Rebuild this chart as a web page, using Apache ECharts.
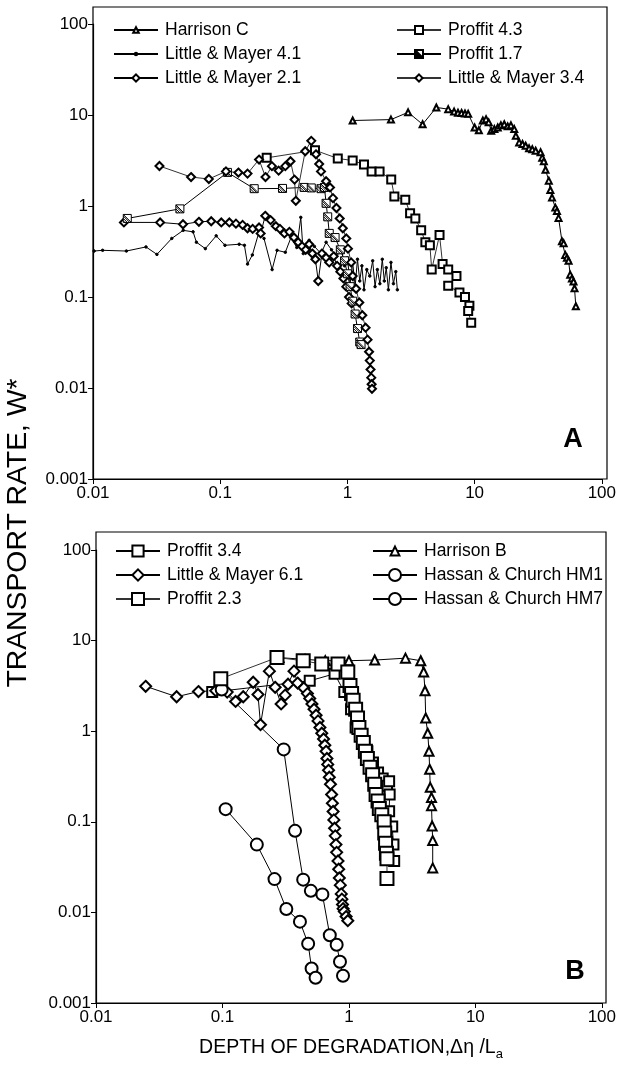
<!DOCTYPE html>
<html>
<head>
<meta charset="utf-8">
<script src="https://cdn.jsdelivr.net/npm/echarts@6/dist/echarts.min.js"></script>
<style>
  html, body { margin: 0; padding: 0; background: #fff; }
  #chart { width: 619px; height: 1074px; }
</style>
</head>
<body>
<div id="chart"></div>
<script>
// ---------- Panel A: transport rate vs depth of degradation ----------
const harrisonC = [[1.10,8.7],[2.2,8.9],[3.0,10.7],[3.9,7.9],[5.0,12.1],[6.2,11.6],[6.9,10.9],[7.4,10.6],[7.9,10.5],[8.4,10.4],[8.9,10.3],[10.0,7.3],[10.8,6.8],[11.6,8.7],[12.3,9.0],[12.9,8.3],[13.5,6.7],[14.3,7.0],[15.2,7.3],[16.1,7.7],[17.1,7.9],[18.2,7.5],[19.3,7.7],[20.5,7.0],[21.1,5.9],[22.4,5.0],[23.8,4.8],[25.2,4.6],[26.8,4.3],[28.4,4.2],[30.2,4.05],[33.0,3.9],[34.0,3.4],[35.0,3.1],[36.1,2.5],[38.3,1.9],[39.4,1.5],[40.6,1.24],[43.1,0.96],[44.4,0.88],[45.7,0.74],[48.6,0.41],[50.1,0.39],[51.6,0.29],[53.2,0.27],[54.8,0.25],[56.4,0.176],[58.2,0.16],[59.9,0.148],[61.0,0.125],[62.5,0.079]];
const littleMayer41 = [[0.0102,0.32],[0.0119,0.326],[0.0183,0.32],[0.0261,0.355],[0.0318,0.294],[0.0416,0.44],[0.0512,0.54],[0.0612,0.52],[0.065,0.40],[0.0764,0.34],[0.093,0.47],[0.109,0.37],[0.141,0.38],[0.155,0.37],[0.164,0.23],[0.179,0.29],[0.202,0.52],[0.221,0.44],[0.256,0.20],[0.280,0.326],[0.325,0.31],[0.36,0.45],[0.40,0.35],[0.43,0.75],[0.45,0.30],[0.5,0.42],[0.55,0.36],[0.62,0.30],[0.68,0.40],[0.75,0.33],[0.82,0.28],[0.9,0.33],[0.95,0.22],[1.0,0.27],[1.05,0.14],[1.1,0.24],[1.15,0.13],[1.2,0.26],[1.25,0.15],[1.3,0.22],[1.35,0.12],[1.42,0.2],[1.5,0.17],[1.58,0.25],[1.65,0.13],[1.72,0.2],[1.8,0.14],[1.88,0.26],[1.95,0.15],[2.02,0.21],[2.1,0.12],[2.2,0.24],[2.3,0.14],[2.4,0.19],[2.47,0.12]];
const littleMayer21 = [[0.0175,0.66],[0.0337,0.66],[0.051,0.63],[0.068,0.67],[0.085,0.68],[0.102,0.66],[0.118,0.66],[0.133,0.64],[0.150,0.62],[0.164,0.57],[0.18,0.56],[0.202,0.58],[0.208,0.50],[0.226,0.78],[0.249,0.70],[0.274,0.60],[0.295,0.56],[0.32,0.50],[0.35,0.52],[0.38,0.45],[0.41,0.40],[0.44,0.36],[0.47,0.33],[0.50,0.38],[0.53,0.30],[0.56,0.26],[0.59,0.15],[0.63,0.30],[0.68,0.27],[0.72,0.24],[0.78,0.28],[0.83,0.22],[0.88,0.19],[0.93,0.16],[0.98,0.13],[1.03,0.10],[1.08,0.085]];
const proffit43 = [[0.232,3.38],[0.556,4.1],[0.84,3.33],[1.10,3.16],[1.35,2.86],[1.55,2.40],[1.79,2.40],[2.21,1.95],[2.34,1.27],[2.85,1.17],[3.11,0.83],[3.42,0.73],[3.8,0.54],[4.1,0.40],[4.45,0.37],[4.6,0.20],[5.3,0.48],[5.6,0.23],[6.2,0.20],[7.2,0.17],[6.2,0.133],[7.6,0.112],[8.4,0.10],[9.1,0.08],[8.9,0.07],[9.4,0.052]];
const proffit17 = [[0.0186,0.73],[0.0482,0.93],[0.114,2.34],[0.185,1.55],[0.309,1.56],[0.457,1.6],[0.52,1.58],[0.62,1.55],[0.66,1.6],[0.68,1.07],[0.70,0.76],[0.72,0.50],[0.80,0.45],[0.88,0.33],[0.95,0.25],[1.0,0.18],[1.05,0.13],[1.1,0.09],[1.15,0.065],[1.2,0.045],[1.25,0.032],[1.28,0.030]];
const littleMayer34 = [[0.0333,2.75],[0.059,2.08],[0.0814,1.98],[0.111,2.40],[0.139,2.33],[0.164,2.27],[0.202,3.24],[0.227,2.08],[0.255,2.74],[0.288,2.45],[0.325,2.74],[0.357,3.1],[0.384,1.95],[0.393,1.14],[0.466,4.0],[0.52,5.2],[0.566,3.7],[0.60,2.9],[0.62,2.4],[0.68,1.87],[0.73,1.6],[0.77,1.22],[0.82,0.95],[0.87,0.73],[0.92,0.57],[0.98,0.44],[1.01,0.34],[1.07,0.24],[1.10,0.17],[1.17,0.123],[1.24,0.087],[1.31,0.063],[1.39,0.046],[1.44,0.034],[1.48,0.025],[1.50,0.020],[1.52,0.016],[1.54,0.013],[1.55,0.011],[1.56,0.0098]];

// ---------- Panel B ----------
const proffit34 = [[0.083,2.7],[0.49,3.6],[0.77,4.3],[0.92,2.7],[1.04,1.75],[1.13,1.1],[1.25,0.9],[1.4,0.6],[1.55,0.45],[1.7,0.35],[1.85,0.3],[2.0,0.25],[2.08,0.28],[2.1,0.2],[2.08,0.131],[2.2,0.089],[2.25,0.056],[2.28,0.037]];
const harrisonB = [[0.28,6.5],[0.45,6.2],[0.65,6.0],[1.0,6.0],[1.6,6.1],[2.8,6.4],[3.7,6.0],[3.9,4.5],[4.0,2.8],[4.05,1.4],[4.2,0.95],[4.3,0.6],[4.35,0.38],[4.4,0.24],[4.5,0.185],[4.5,0.15],[4.55,0.09],[4.6,0.062],[4.6,0.031]];
const littleMayer61 = [[0.0247,3.13],[0.0434,2.40],[0.0646,2.74],[0.0885,2.8],[0.109,2.7],[0.127,2.13],[0.146,2.40],[0.175,3.47],[0.191,2.54],[0.2,1.18],[0.235,4.6],[0.261,3.05],[0.291,2.0],[0.313,2.5],[0.33,3.3],[0.368,4.6],[0.393,3.4],[0.44,3.0],[0.47,2.6],[0.49,2.3],[0.51,2.0],[0.53,1.75],[0.55,1.5],[0.57,1.3],[0.59,1.1],[0.61,0.95],[0.63,0.82],[0.645,0.7],[0.66,0.6],[0.67,0.5],[0.68,0.43],[0.69,0.37],[0.70,0.31],[0.715,0.26],[0.73,0.2],[0.74,0.16],[0.75,0.13],[0.76,0.105],[0.77,0.085],[0.78,0.07],[0.79,0.056],[0.80,0.046],[0.82,0.037],[0.83,0.03],[0.84,0.024],[0.855,0.02],[0.87,0.016],[0.88,0.014],[0.89,0.0122],[0.90,0.011],[0.92,0.0102],[0.95,0.009],[0.98,0.0081]];
const hassanHM1 = [[0.0986,2.88],[0.305,0.63],[0.375,0.0795],[0.435,0.023],[0.50,0.0173],[0.617,0.0158],[0.706,0.0056],[0.80,0.0044],[0.85,0.00285],[0.898,0.0020]];
const proffit23 = [[0.097,3.8],[0.27,6.5],[0.435,6.0],[0.61,5.5],[0.82,5.5],[0.98,4.5],[1.02,3.2],[1.05,2.6],[1.08,2.2],[1.13,1.75],[1.17,1.4],[1.2,1.1],[1.25,0.9],[1.3,0.75],[1.35,0.6],[1.4,0.5],[1.47,0.4],[1.54,0.33],[1.6,0.26],[1.64,0.2],[1.7,0.17],[1.74,0.14],[1.82,0.12],[1.9,0.10],[1.92,0.075],[1.95,0.058],[1.98,0.045],[2.0,0.039],[2.0,0.0236]];
const hassanHM7 = [[0.106,0.138],[0.187,0.056],[0.258,0.0233],[0.32,0.0109],[0.41,0.0079],[0.476,0.0045],[0.507,0.0024],[0.545,0.0019]];

const xTickLabels = ['0.01', '0.1', '1', '10', '100'];
const yTickLabels = ['0.001', '0.01', '0.1', '1', '10', '100'];

// ---------- layout ----------
const A = { left: 93, right: 607, frameTop: 7, top: 24, bottom: 479 };
const B = { left: 96, right: 606, frameTop: 532, top: 550, bottom: 1003 };
const FONT = 'Liberation Sans, Arial, Helvetica, sans-serif';

function fmt(list) {
  return function (v) {
    const e = Math.round(Math.log10(v));
    const s = list.find(t => Math.round(Math.log10(parseFloat(t))) === e);
    return s || '';
  };
}

function xAxis(grid) {
  return {
    type: 'log', logBase: 10, gridIndex: grid, min: 0.01, max: 100,
    axisLine: { lineStyle: { color: '#000', width: 1.2 } },
    axisTick: { show: true, inside: false, length: 5, lineStyle: { color: '#000', width: 1 } },
    minorTick: { show: false },
    splitLine: { show: false },
    axisLabel: { color: '#000', fontFamily: FONT, fontSize: 17, margin: 6, formatter: fmt(xTickLabels) }
  };
}
function yAxis(grid) {
  return {
    type: 'log', logBase: 10, gridIndex: grid, min: 0.001, max: 100,
    axisLine: { lineStyle: { color: '#000', width: 1.2 } },
    axisTick: { show: true, inside: false, length: 5, lineStyle: { color: '#000', width: 1 } },
    splitLine: { show: false },
    axisLabel: { color: '#000', fontFamily: FONT, fontSize: 17, margin: 5, formatter: fmt(yTickLabels) }
  };
}

const hatchSquare = 'path://M0,0L10,0L10,10L0,10Z M0,2L8,10 M0,5L5,10 M0,8L2,10 M0,0L10,10';

function line(name, data, grid, symbol, size, opts) {
  opts = opts || {};
  return {
    name: name, type: 'line', data: data,
    xAxisIndex: grid, yAxisIndex: grid,
    symbol: symbol, symbolSize: size, showAllSymbol: true,
    clip: false,
    lineStyle: { color: opts.lineColor || '#000', width: opts.lineWidth || 1, type: opts.lineType || 'solid' },
    itemStyle: { color: opts.fill || '#000', borderColor: '#000', borderWidth: opts.border || 1 },
    emphasis: { disabled: true },
    z: opts.z || 2
  };
}

const series = [
  line('Harrison C', harrisonC, 0, 'emptyTriangle', 6, {}),
  line('Little & Mayer 4.1', littleMayer41, 0, 'circle', 2.5, {}),
  line('Little & Mayer 2.1', littleMayer21, 0, 'emptyDiamond', 8, {}),
  line('Proffit 4.3', proffit43, 0, 'emptyRect', 8, { lineColor: '#333' }),
  line('Proffit 1.7', proffit17, 0, hatchSquare, 8, { fill: '#fff' }),
  line('Little & Mayer 3.4', littleMayer34, 0, 'emptyDiamond', 8, { lineColor: '#333' }),
  line('Proffit 3.4', proffit34, 1, 'emptyRect', 10, {}),
  line('Harrison B', harrisonB, 1, 'emptyTriangle', 9, {}),
  line('Little & Mayer 6.1', littleMayer61, 1, 'emptyDiamond', 11, {}),
  line('Hassan & Church HM1', hassanHM1, 1, 'emptyCircle', 12, {}),
  line('Proffit 2.3', proffit23, 1, 'emptyRect', 13, { lineColor: '#333' }),
  line('Hassan & Church HM7', hassanHM7, 1, 'emptyCircle', 12, {})
];

// one legend entry per component, so each row can carry its own marker size
function legendItem(name, left, centerY, iconH) {
  return {
    data: [name], orient: 'vertical', left: left, top: centerY - 10,
    itemWidth: 44, itemHeight: iconH, padding: 0,
    selectedMode: false,
    textStyle: { color: '#000', fontFamily: FONT, fontSize: 17.5, lineHeight: 20, padding: [0, 0, 0, 2] }
  };
}
const legendA1 = ['Harrison C', 'Little & Mayer 4.1', 'Little & Mayer 2.1'];
const legendA2 = ['Proffit 4.3', 'Proffit 1.7', 'Little & Mayer 3.4'];
const legendB1 = ['Proffit 3.4', 'Little & Mayer 6.1', 'Proffit 2.3'];
const legendB2 = ['Harrison B', 'Hassan & Church HM1', 'Hassan & Church HM7'];
const iconSize = {
  'Harrison C': 7, 'Little & Mayer 4.1': 3, 'Little & Mayer 2.1': 9,
  'Proffit 4.3': 10, 'Proffit 1.7': 10, 'Little & Mayer 3.4': 9,
  'Proffit 3.4': 14, 'Little & Mayer 6.1': 14, 'Proffit 2.3': 15,
  'Harrison B': 11, 'Hassan & Church HM1': 15, 'Hassan & Church HM7': 15
};
const legends = [];
function addColumn(names, left, firstY, pitch) {
  names.forEach((n, i) => legends.push(legendItem(n, left, firstY + i * pitch, iconSize[n])));
}
addColumn(legendA1, 113, 30, 24);
addColumn(legendA2, 396, 30, 24);
addColumn(legendB1, 115, 551, 24);
addColumn(legendB2, 372, 551, 24);

function frame(p) {
  return {
    type: 'rect', silent: true, z: 100,
    shape: { x: p.left, y: p.frameTop, width: p.right - p.left, height: p.bottom - p.frameTop },
    style: { fill: 'none', stroke: '#000', lineWidth: 1.2 }
  };
}

const chart = echarts.init(document.getElementById('chart'), null, { renderer: 'canvas' });
chart.setOption({
  animation: false,
  backgroundColor: '#fff',
  grid: [
    { left: A.left, top: A.top, width: A.right - A.left, height: A.bottom - A.top },
    { left: B.left, top: B.top, width: B.right - B.left, height: B.bottom - B.top }
  ],
  xAxis: [xAxis(0), xAxis(1)],
  yAxis: [yAxis(0), yAxis(1)],
  legend: legends,
  series: series,
  graphic: [
    frame(A), frame(B),
    { type: 'text', x: 573, y: 440, silent: true,
      style: { text: 'A', font: 'bold 27px ' + FONT, fill: '#000', textAlign: 'center', textVerticalAlign: 'middle' } },
    { type: 'text', x: 575, y: 972, silent: true,
      style: { text: 'B', font: 'bold 27px ' + FONT, fill: '#000', textAlign: 'center', textVerticalAlign: 'middle' } },
    { type: 'text', x: 19, y: 533, rotation: Math.PI / 2, scaleX: 1.05, silent: true,
      style: { text: 'TRANSPORT RATE, W*', font: '27px ' + FONT, fill: '#000', textAlign: 'center', textVerticalAlign: 'middle' } },
    { type: 'text', x: 351, y: 1048, silent: true,
      style: {
        text: '{t|DEPTH OF DEGRADATION,\u0394\u03b7 /L}{s|a}',
        textAlign: 'center', textVerticalAlign: 'middle', fill: '#000',
        rich: {
          t: { fontFamily: FONT, fontSize: 19.5, fill: '#000' },
          s: { fontFamily: FONT, fontSize: 13, fill: '#000', padding: [12, 0, 0, 0] }
        }
      } }
  ]
});
</script>
</body>
</html>
